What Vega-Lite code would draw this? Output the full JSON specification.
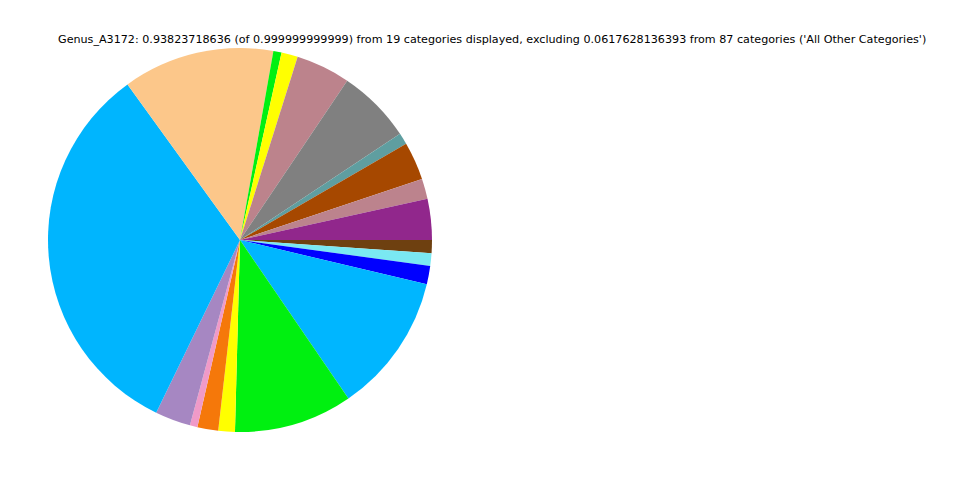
{
  "$schema": "https://vega.github.io/schema/vega-lite/v6.json",
  "width": 480,
  "height": 480,
  "autosize": "none",
  "padding": {"left": 0, "top": 0, "right": 480, "bottom": 0},
  "background": "white",
  "view": {"stroke": null},
  "title": {
    "text": "Genus_A3172: 0.93823718636 (of 0.999999999999) from 19 categories displayed, excluding 0.0617628136393 from 87 categories ('All Other Categories')",
    "anchor": "start",
    "frame": "group",
    "dx": 58,
    "dy": 49,
    "font": "DejaVu Sans",
    "fontSize": 11.15,
    "fontWeight": "normal",
    "color": "black"
  },
  "data": {
    "values": [
      {"order": 1, "category": "Category 19", "value": 0.01035, "color": "#6E4010"},
      {"order": 2, "category": "Category 18", "value": 0.00996, "color": "#7AE8F2"},
      {"order": 3, "category": "Category 17", "value": 0.01449, "color": "#0000FF"},
      {"order": 4, "category": "Category 16", "value": 0.11016, "color": "#00B6FF"},
      {"order": 5, "category": "Category 15", "value": 0.09351, "color": "#00F010"},
      {"order": 6, "category": "Category 14", "value": 0.01308, "color": "#FFFF00"},
      {"order": 7, "category": "Category 13", "value": 0.01647, "color": "#F5780A"},
      {"order": 8, "category": "Category 12", "value": 0.00594, "color": "#F09AC8"},
      {"order": 9, "category": "Category 11", "value": 0.02804, "color": "#A687C2"},
      {"order": 10, "category": "Category 10", "value": 0.30818, "color": "#00B5FE"},
      {"order": 11, "category": "Category 9", "value": 0.1196, "color": "#FCC78A"},
      {"order": 12, "category": "Category 8", "value": 0.00649, "color": "#00F011"},
      {"order": 13, "category": "Category 7", "value": 0.01295, "color": "#FFFF01"},
      {"order": 14, "category": "Category 6", "value": 0.0429, "color": "#BC838C"},
      {"order": 15, "category": "Category 5", "value": 0.05864, "color": "#808080"},
      {"order": 16, "category": "Category 4", "value": 0.00904, "color": "#5F9EA0"},
      {"order": 17, "category": "Category 3", "value": 0.03005, "color": "#A64800"},
      {"order": 18, "category": "Category 2", "value": 0.01595, "color": "#BC838D"},
      {"order": 19, "category": "Category 1", "value": 0.03242, "color": "#91278C"}
    ]
  },
  "mark": {"type": "arc", "outerRadius": 192, "stroke": null},
  "encoding": {
    "theta": {
      "field": "value",
      "type": "quantitative",
      "stack": true,
      "scale": {"range": [1.5707963, 7.8539816]}
    },
    "order": {"field": "order", "type": "quantitative", "sort": "ascending"},
    "color": {"field": "color", "type": "nominal", "scale": null, "legend": null}
  }
}
